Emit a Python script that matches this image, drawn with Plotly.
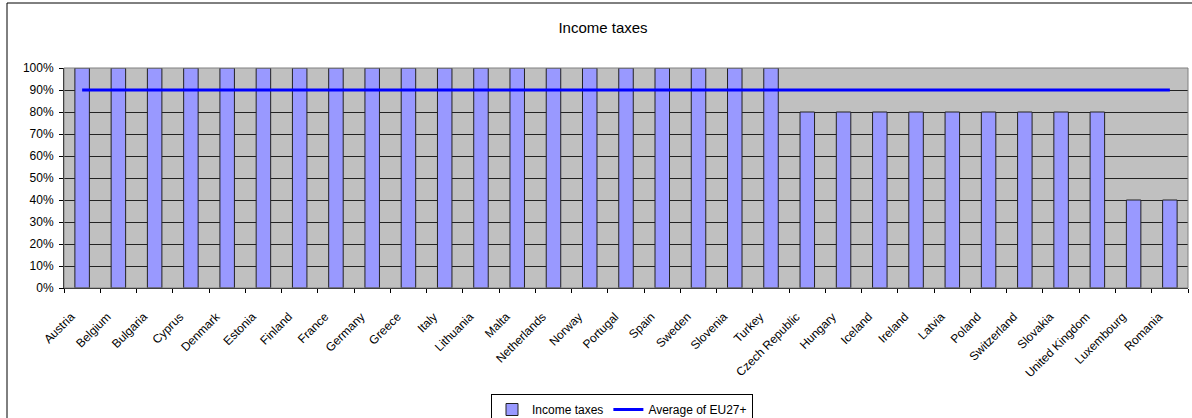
import plotly.graph_objects as go

countries = ["Austria", "Belgium", "Bulgaria", "Cyprus", "Denmark", "Estonia", "Finland",
             "France", "Germany", "Greece", "Italy", "Lithuania", "Malta", "Netherlands",
             "Norway", "Portugal", "Spain", "Sweden", "Slovenia", "Turkey", "Czech Republic",
             "Hungary", "Iceland", "Ireland", "Latvia", "Poland", "Switzerland", "Slovakia",
             "United Kingdom", "Luxembourg", "Romania"]
income_taxes = [1.0] * 20 + [0.8] * 9 + [0.4] * 2
avg_value = 0.9
average = [avg_value] * len(countries)

FONT = "Liberation Sans, Arial, sans-serif"

fig = go.Figure()
fig.add_trace(go.Bar(
    x=countries, y=income_taxes, name="Income taxes",
    marker=dict(color="#9999FF", line=dict(color="#222222", width=1)),
))
fig.add_trace(go.Scatter(
    x=countries, y=average, name="Average of EU27+", mode="lines",
    line=dict(color="#0000FF", width=3),
))

L, R, T, B = 64, 4, 68, 130
W, H = 1192, 418
pw = W - L - R
ph = H - T - B

fig.update_layout(
    width=W, height=H,
    margin=dict(l=L, r=R, t=T, b=B, pad=0, autoexpand=False),
    paper_bgcolor="white", plot_bgcolor="#C0C0C0",
    font=dict(family=FONT, size=12, color="black"),
    bargap=0.6,
    title=dict(text="Income taxes", x=(603 - L) / pw, xref="paper", xanchor="center",
               y=1 - 28 / H, yanchor="middle", font=dict(size=15)),
    showlegend=True,
    legend=dict(orientation="h", x=(622 - L) / pw, xanchor="center",
                y=-(394 - (H - B)) / ph, yanchor="top",
                bordercolor="black", borderwidth=1, bgcolor="white",
                font=dict(size=12), itemwidth=30, tracegroupgap=0),
    xaxis=dict(type="category", tickangle=-45, tickson="boundaries", ticks="outside",
               ticklen=4, tickcolor="black", showline=True, linecolor="black",
               showgrid=False, tickfont=dict(size=12), ticklabelstandoff=16,
               ticklabelshift=-11, automargin=False),
    yaxis=dict(range=[0, 1], dtick=0.1, tickformat=".0%", ticks="outside", ticklen=4,
               tickcolor="black", showline=True, linecolor="black", showgrid=True,
               gridcolor="#222222", gridwidth=1, zeroline=False, tickfont=dict(size=12),
               ticklabelstandoff=3, automargin=False),
    shapes=[
        dict(type="rect", xref="paper", yref="paper", x0=0, x1=1, y0=0, y1=1,
             line=dict(color="#808080", width=1), layer="above"),
        dict(type="rect", xref="paper", yref="paper",
             x0=-(L - 7) / pw, x1=1.2, y0=-1.0, y1=(H - B - 3) / ph,
             line=dict(color="black", width=1), layer="below"),
    ],
)

fig.write_html("out.html", config={"displayModeBar": False},
               post_script="document.body.style.margin='0px';document.body.style.overflow='hidden';")
